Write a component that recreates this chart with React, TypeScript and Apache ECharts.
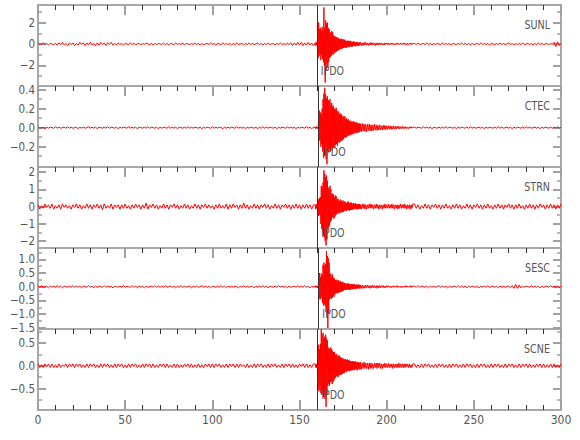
import { useEffect, useRef } from "react";
import * as echarts from "echarts";

// ---------- data ----------
const STATIONS = ["SUNL", "CTEC", "STRN", "SESC", "SCNE"];
const PICK_TIMES = [159.9, 160.8, 160.2, 160.8, 160.2];
const PICK_LABEL = "IPDO";

// sampling of the four trace segments (seconds)
const PRE_T0 = 0, PRE_DT = 1;
const EVT_T0 = 159, EVT_DT = 0.25;
const POST_T0 = 185.5, POST_DT = 0.5;
const LATE_T0 = 216, LATE_DT = 1;

// amplitudes are stored as integers in these units per station
const UNITS = [0.05, 0.005, 0.05, 0.02, 0.02];

const SUNL_PRE = [1,-1,0,2,-1,1,-2,1,0,-1, 1,-2,2,-1,3,-2,1,-3,2,-1, 2,-3,1,-2,3,-1,2,-3,2,-2, 3,-2,1,-3,2,-2,3,-1,2,-3, 2,-1,3,-2,1,-2,2,-1,1,-2, 1,0,-1,2,-1,1,-1,0,1,-2, 1,-1,2,0,-1,1,-2,1,-1,1, 0,-1,2,-1,1,-2,1,0,-1,2, -1,1,-1,2,-2,1,0,-1,1,-1, 2,-1,1,-2,1,-1,0,1,-1,2, -1,1,-2,1,0,-1,2,-1,1,-1, 1,-2,1,-1,2,-1,0,1,-2,1, -1,2,-1,1,-1,0,2,-1,1,-2, 1,-1,2,-1,0,1,-2,1,-1,2, -1,1,-2,2,-1,2,-3,2,-2,3, -2,3,-3,2,-2,3,-2,2,-3];
const SUNL_EVT = [2,-3,3,-2,3,-3, 18,-26,40, -22,28,-18,30,-30,24,-20,32,-28,26,-34, 68, -40,30,-72, 44,-50,38,-36,40,-44,30,-34,28, -26,22,-24,20,-22,24,-18,22,-20,16,-18,14, -16,14,-15,12,-14,13,-12,10,-12,11,-10,9, -10,9,-8,10,-9,7,-8,9,-7,8,-6,8,-7,6,-7,5,-6,6,-5,6, -6,5,-5,6,-4,5,-5,4,-5,4,-4,5,-3,4,-4,3,-4,3,-3,4,-3,3,-3,2,-3,3,-2,3];
const SUNL_POST = [-3,2,-3,3,-2,3,-2,2,-3,2, -2,3,-2,2,-2,2,-3,2,-2,2, -2,2,-1,2,-2,1,-2,2,-1,2, -1,2,-2,1,-1,2,-1,1,-2,1, -1,2,-1,1,-1,2,-1,1,-1,2, -1,1,-2,1,-1,1,-1,2,-1,1];
const SUNL_LATE = [1,-1,2,-1,0,1,-1,2,-1,1, -2,1,-1,1,0,-1,2,-1,1,-1, 1,-2,1,0,-1,1,-1,2,-1,1, -1,1,-2,1,-1,0,1,-1,2,-1, 1,-1,1,-2,1,0,-1,1,-1,2, -1,1,-1,0,2,-1,1,-2,1,-1, 1,-1,2,-1,0,1,-1,1,-2,1, -1,2,-1,1,-1,0,1,-2,1,-1, 3,-5,4,-3,1];

const CTEC_PRE = [1,-1,0,1,-2,1,-1,1,0,-1, 2,-1,1,-1,0,1,-1,2,-1,1, -1,0,1,-2,1,-1,1,-1,0,2, -1,1,-1,1,-2,1,0,-1,1,-1, 2,-1,1,0,-1,1,-2,1,-1,1, 0,-1,2,-1,1,-1,1,-2,1,0, -1,1,-1,2,-1,1,0,-1,1,-2, 1,-1,1,0,-1,2,-1,1,-1,1, -2,1,0,-1,1,-1,2,-1,1,-1, 1,0,-1,1,-2,1,-1,1,0,-1, 2,-1,1,-1,1,0,-2,1,-1,1, -1,1,0,-1,2,-1,1,-1,1,-2, 1,-1,1,0,-1,1,-2,1,-1,2, -1,1,-1,1,0,-1,1,-2,1,-1, 1,0,-1,2,-1,1,-1,1,-2,1, -1,1,0,-1,2,-1,1,-2,1];
const CTEC_EVT = [1,-2,2,-1,2,-2,1,-2, 30,-28,36,-24,32,-40,28,-34,40, -50,60,-64,72,-60,84,-58,70,-66,62,-77,66, -48,58,-52,54,-46,60,-50,48,-44,52,-48,44,-40,46,-42,40, -40,38,-36,42,-34,36,-38,32,-30,34,-32,28,-30,30,-26,28,-28,24,-26,24, -24,22,-20,24,-22,18,-20,20,-18,16,-18,18,-16,14,-16,15,-14,12,-14,13, -14,12,-13,14,-11,12,-12,10,-11,12,-10,9,-11,10,-9,8,-10,9,-8,8];
const CTEC_POST = [-8,9,-7,8,-8,7,-9,7,-6,8, -7,6,-7,6,-6,7,-5,6,-6,5, -5,6,-5,4,-5,5,-4,5,-4,4, -4,4,-3,4,-4,3,-3,4,-3,3, -3,3,-2,3,-3,2,-2,3,-2,2, -2,2,-2,1,-2,2,-1,2,-1,1];
const CTEC_LATE = [1,-1,1,0,-1,2,-1,1,-1,1, -2,1,0,-1,1,-1,1,-1,2,-1, 1,0,-1,1,-2,1,-1,1,0,-1, 1,-1,2,-1,1,-1,0,1,-1,1, -2,1,-1,1,0,-1,1,-1,2,-1, 1,-1,0,1,-1,1,-2,1,-1,1, 0,-1,1,-1,2,-1,1,-1,0,1, -1,1,-2,1,-1,1,0,-1,1,-1, 1,-1,2,-1,1];

const STRN_PRE = [2,-3,1,-2,3,-1,2,-2,3,-3, 1,-2,2,-3,3,-1,2,-2,1,-3, 2,-1,3,-2,2,-3,1,-2,3,-2, 2,-3,2,-1,3,-2,2,-4,3,-2, 1,-2,3,-3,2,-1,2,-3,2,-2, 3,-2,1,-3,2,-2,3,-1,2,-3, 2,-2,4,-3,2,-1,3,-2,2,-3, 1,-2,3,-2,2,-3,2,-1,3,-2, 2,-3,1,-2,3,-2,2,-3,1,-2, 3,-2,2,-3,2,-1,3,-2,2,-2, 1,-3,2,-2,3,-2,1,-2,3,-3, 2,-2,3,-1,2,-3,2,-2,4,-2, 2,-3,1,-2,3,-2,2,-3,2,-1, 3,-2,2,-3,1,-2,3,-2,2,-3, 2,-1,3,-2,2,-3,2,-2,3,-2, 2,-3,2,-2,3,-2,2,-3,2];
const STRN_EVT = [2,-3,2,-2,3,-2, 9,-11,8,-10,10,-9,11, -20,24,-26,22,-30,28, -34,42,-36,38,-40,34,-45,36,-38,30, -26,22,-24,20,-22,24,-18,20, -16,14,-13,15,-12,14,-14,11,-12,13,-10,12, -9,8,-8,9,-7,8,-8,6,-7,8,-6,7,-7,6,-6,7, -6,5,-5,6,-4,5,-5,4,-5,5,-4,6,-4,4,-5,4,-4,5,-4,4, -4,3,-3,4,-3,3,-3,4,-2,3,-3,3,-3,2,-3,3,-2,3,-3,2];
const STRN_POST = [-3,3,-2,3,-3,2,-3,2,-2,3, -2,3,-2,2,-3,2,-2,3,-2,2, -3,2,-2,2,-3,2,-2,3,-2,2, -2,3,-2,2,-2,3,-2,2,-3,2, -2,2,-3,2,-2,3,-2,2,-2,3, -2,2,-3,2,-2,2,-3,2,-2,3];
const STRN_LATE = [3,-2,2,-3,1,-2,3,-2,2,-3, 2,-1,3,-2,2,-3,2,-2,3,-2, 1,-3,2,-2,3,-2,2,-3,1,-2, 3,-2,2,-3,2,-1,3,-2,2,-3, 2,-2,3,-2,1,-3,2,-2,3,-2, 2,-3,2,-1,3,-2,2,-3,2,-2, 3,-2,1,-3,2,-2,3,-2,2,-3, 2,-2,3,-1,2,-3,2,-2,3,-2, 2,-3,2,-2,3];

const SESC_PRE = [1,-1,2,-1,0,1,-2,1,-1,1, -1,2,-1,1,-2,1,0,-1,1,-1, 2,-1,1,-1,1,-2,1,0,-1,2, -1,1,-2,1,-1,1,0,-1,2,-1, 1,-1,1,-2,1,0,-1,1,-1,2, -1,1,0,-1,2,-1,1,-2,1,-1, 1,-2,1,-1,0,1,-1,2,-1,1, -1,1,-1,2,-1,0,1,-1,1,-2, 1,-1,2,-1,1,-1,0,1,-2,1, -1,1,-1,0,2,-1,1,-1,1,-2, 1,0,-1,1,-1,2,-1,1,-2,1, -1,1,-1,1,0,-2,1,-1,2,-1, 1,-1,0,1,-2,1,-1,1,-1,2, -1,1,-2,1,0,-1,1,-1,2,-1, 1,-1,1,-2,1,-1,0,1,-1,2, -1,1,-1,2,-1,1,-2,1,-1];
const SESC_EVT = [1,-1,2,-1,1,-2,1,-1, 22,-20,25,-23,18,-22,24,-19,21, -30,40,-34,44,-32,38,-35,42, -46,65,-50,56,-75,52,-48,44, -24,22,-20,24,-22,18,-20,22,-18,16,-18,15, -14,12,-12,13,-11,12,-12,10,-11,12,-10,9,-10,10,-9,8,-9,9,-8,8, -7,6,-6,7,-5,6,-6,5,-6,6,-5,6,-5,5,-6,4,-5,5,-4,5, -5,4,-4,5,-4,4,-4,3,-4,4,-3,4,-3,3,-3,4,-3,3,-3,3];
const SESC_POST = [-3,3,-3,2,-3,3,-2,3,-2,2, -3,2,-2,3,-2,2,-2,2,-3,2, -2,2,-2,2,-1,2,-2,1,-2,2, -1,2,-1,1,-2,1,-1,2,-1,1, -1,2,-1,1,-1,1,-2,1,-1,1, -1,2,-1,1,-1,1,-1,2,-1,1];
const SESC_LATE = [1,-1,2,-1,1,0,-1,1,-2,1, -1,1,-1,0,2,-1,1,-1,1,-2, 1,-1,0,1,-1,2,-1,1,-1,1, -2,1,-1,1,0,-1,1,-2,1,-1, 1,-1,2,-1,0,1,-1,1,-2,1, -1,1,-1,0,1,-2,2,-3,4,-3, 3,-2,1,-1,1,0,-1,2,-1,1, -1,1,-2,1,-1,0,1,-1,2,-1, 1,-1,1,-2,1];

const SCNE_PRE = [2,-2,1,-2,2,-1,2,-2,2,-2, 1,-2,2,-2,1,-1,2,-2,2,-1, 2,-2,2,-1,2,-2,1,-2,2,-2, 2,-1,2,-2,1,-2,2,-2,2,-1, 2,-2,1,-2,2,-2,2,-1,2,-2, 1,-2,2,-2,2,-1,2,-2,1,-2, 2,-2,2,-1,2,-2,2,-2,1,-2, 2,-1,2,-2,2,-2,1,-2,2,-2, 2,-2,1,-2,2,-1,2,-2,2,-2, 1,-2,2,-2,1,-2,2,-1,2,-2, 2,-2,2,-1,2,-2,1,-2,2,-2, 2,-1,2,-2,2,-2,2,-1,1,-2, 2,-2,1,-2,2,-2,2,-1,2,-2, 1,-2,2,-2,2,-1,2,-2,1,-2, 2,-2,2,-1,2,-2,2,-2,1,-2, 2,-1,2,-2,2,-2,1,-2,2];
const SCNE_EVT = [2,-2,1,-2,2,-2, 20,-26,23,-28,18,-22,24, -30,40,-32,34,-30,36,-34,30,-36,32,-28,34,-45,30,-32,28, -22,20,-20,18,-22,19,-18,20,-17,18,-20,16,-18,15,-16,15, -14,12,-13,13,-11,12,-12,10,-12,11,-10,11,-10,9,-10,9,-9,8,-9,8, -8,7,-8,7,-6,7,-7,6,-6,7,-6,6,-5,6,-6,5,-5,5,-5,5, -5,5,-4,5,-5,4,-4,5,-4,4,-4,4,-5,4,-3,4,-4,3,-4,4];
const SCNE_POST = [-4,3,-3,4,-3,3,-3,3,-4,3, -3,3,-3,2,-3,3,-2,3,-3,3, -2,3,-3,2,-3,2,-2,3,-2,2, -2,3,-2,2,-2,2,-3,2,-2,2, -2,2,-2,3,-2,2,-2,2,-2,2, -2,2,-1,2,-2,2,-2,1,-2,2];
const SCNE_LATE = [2,-2,1,-2,2,-2,2,-1,2,-2, 1,-2,2,-2,2,-1,2,-2,1,-2, 2,-2,2,-1,2,-2,1,-2,2,-2, 2,-1,2,-2,1,-2,2,-2,2,-1, 2,-2,1,-2,2,-2,2,-1,2,-2, 1,-2,2,-2,2,-1,2,-2,1,-2, 2,-2,2,-1,2,-2,2,-2,1,-2, 2,-1,2,-2,2,-2,1,-2,2,-2, 2,-2,1,-2,2];

const PRE = [SUNL_PRE, CTEC_PRE, STRN_PRE, SESC_PRE, SCNE_PRE];
const EVT = [SUNL_EVT, CTEC_EVT, STRN_EVT, SESC_EVT, SCNE_EVT];
const POST = [SUNL_POST, CTEC_POST, STRN_POST, SESC_POST, SCNE_POST];
const LATE = [SUNL_LATE, CTEC_LATE, STRN_LATE, SESC_LATE, SCNE_LATE];

// axes
const X_MIN = 0, X_MAX = 300, X_MAJOR = 50, X_MINOR_SPLIT = 5;
const Y_MIN = [-3.91, -0.414, -2.4, -1.54, -0.97];
const Y_MAX = [3.63, 0.439, 2.29, 1.41, 0.805];
const Y_MAJOR = [[-2, 0, 2], [-0.2, 0, 0.2, 0.4], [-2, -1, 0, 1, 2], [-1.5, -1, -0.5, 0, 0.5, 1], [-0.5, 0, 0.5]];
const Y_MINOR = [[-3, -1, 1, 3], [-0.3, -0.1, 0.1, 0.3], [-1.5, -0.5, 0.5, 1.5], [-1.25, -0.75, -0.25, 0.25, 0.75, 1.25], [-0.75, -0.25, 0.25, 0.75]];
const Y_DECIMALS = [0, 1, 0, 1, 1];

// ---------- layout / style ----------
const GRID_LEFT = 38;
const GRID_W = 523;
const GRID_TOP = 5;
const PANEL_H = 81;
const FONT = '"Liberation Sans Narrow","DejaVu Sans Condensed","Liberation Sans",sans-serif';
const FRAME = "#a8a8a8";
const LABEL = "#555";

function buildTrace(i: number) {
  const u = UNITS[i];
  const segs: [number, number, number[]][] = [
    [PRE_T0, PRE_DT, PRE[i]],
    [EVT_T0, EVT_DT, EVT[i]],
    [POST_T0, POST_DT, POST[i]],
    [LATE_T0, LATE_DT, LATE[i]],
  ];
  const pts: number[][] = [];
  segs.forEach(([t0, dt, vals]) => {
    vals.forEach((v, k) => pts.push([+(t0 + k * dt).toFixed(3), +(v * u).toFixed(4)]));
  });
  return pts;
}

function fmt(v: number, d: number) {
  const s = Math.abs(v).toFixed(d);
  return v < -1e-9 ? "\u2212" + s : s;
}

function buildOption() {
  const grids = STATIONS.map((_, i) => ({
    left: GRID_LEFT, top: GRID_TOP + i * PANEL_H, width: GRID_W, height: PANEL_H,
  }));
  const xBase = (gi: number, position: string, labels: boolean) => ({
    type: "value", gridIndex: gi, position, min: X_MIN, max: X_MAX, interval: X_MAJOR,
    axisLine: { show: true, onZero: false, lineStyle: { color: FRAME, width: 2 } },
    axisTick: { show: true, inside: true, length: 10, lineStyle: { color: "#a0a0a0", width: 2 } },
    minorTick: { show: true, splitNumber: X_MINOR_SPLIT, length: 5, lineStyle: { color: "#333", width: 1 } },
    axisLabel: labels
      ? { show: true, color: LABEL, fontSize: 12, fontFamily: FONT, margin: 4 }
      : { show: false },
    splitLine: { show: false }, minorSplitLine: { show: false },
  });
  const xAxes: any[] = STATIONS.map((_, i) => xBase(i, "top", false));
  xAxes.push(xBase(STATIONS.length - 1, "bottom", true));

  const yAxes: any[] = [];
  STATIONS.forEach((_, i) => {
    const mk = (position: string, ticks: number[], len: number, width: number, labels: boolean) => ({
      type: "value", gridIndex: i, position, min: Y_MIN[i], max: Y_MAX[i],
      axisLine: { show: true, onZero: false, lineStyle: { color: FRAME, width: 2 } },
      axisTick: { show: true, inside: true, length: len, customValues: ticks, lineStyle: { color: "#a0a0a0", width } },
      axisLabel: labels
        ? { show: true, customValues: Y_MAJOR[i], color: LABEL, fontSize: 11.5, fontFamily: FONT, margin: 3,
            formatter: (v: number) => fmt(v, Y_DECIMALS[i]) }
        : { show: false },
      splitLine: { show: false },
    });
    yAxes.push(mk("left", Y_MAJOR[i], 8, 2, true));
    yAxes.push(mk("right", Y_MAJOR[i], 8, 2, false));
    yAxes.push(mk("left", Y_MINOR[i], 4, 1.5, false));
    yAxes.push(mk("right", Y_MINOR[i], 4, 1.5, false));
  });

  const series = STATIONS.map((name, i) => ({
    name, type: "line", xAxisIndex: i, yAxisIndex: i * 4,
    data: buildTrace(i), showSymbol: false, symbol: "none", silent: true,
    lineStyle: { color: "#ff0000", width: 1 }, clip: true,
    markLine: {
      silent: true, symbol: "none", animation: false,
      label: { show: false },
      lineStyle: { color: "#333", width: 1, type: "solid" },
      data: [{ xAxis: PICK_TIMES[i] }],
    },
  }));

  return { animation: false, backgroundColor: "#ffffff", grid: grids, xAxis: xAxes, yAxis: yAxes, series };
}

function stationGraphics(chart: any) {
  const g: any[] = [];
  STATIONS.forEach((name, i) => {
    const top = GRID_TOP + i * PANEL_H;
    g.push({
      type: "text", id: "st" + i, x: GRID_LEFT + GRID_W - 11, y: top + 20, scaleX: 0.82, silent: true, z: 100,
      style: { text: name, align: "right", verticalAlign: "middle", fill: LABEL, font: "13px " + FONT },
    });
    const px = chart.convertToPixel({ xAxisIndex: i }, PICK_TIMES[i]);
    g.push({
      type: "text", id: "pk" + i, x: px + 4, y: top + PANEL_H - 15, scaleX: 0.88, silent: true, z: 100,
      style: { text: PICK_LABEL, align: "left", verticalAlign: "middle", fill: LABEL, font: "12px " + FONT },
    });
  });
  return g;
}

export default function App() {
  const ref = useRef<HTMLDivElement>(null);
  useEffect(() => {
    if (!ref.current) return;
    const chart = echarts.init(ref.current, null, { renderer: "svg" });
    chart.setOption(buildOption() as any);
    chart.setOption({ graphic: stationGraphics(chart) } as any);
    return () => chart.dispose();
  }, []);
  return (
    <div
      ref={ref}
      style={{ position: "absolute", left: 0, top: 0, width: 580, height: 440, background: "#fff" }}
    />
  );
}
